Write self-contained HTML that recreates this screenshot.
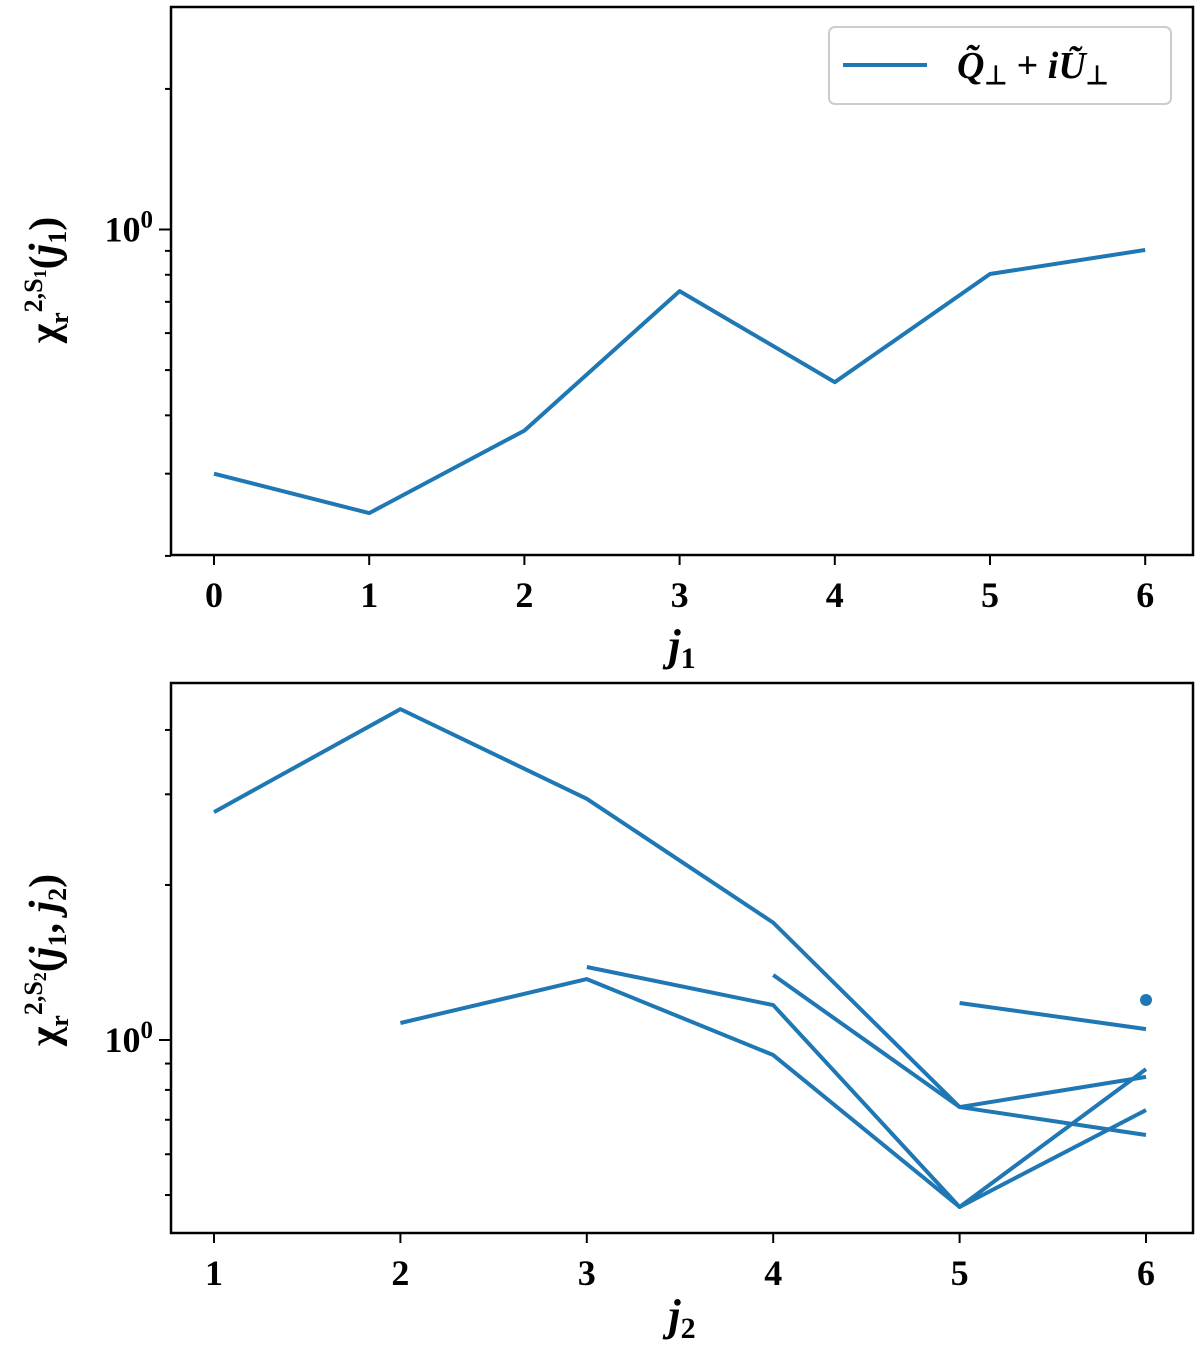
<!DOCTYPE html>
<html><head><meta charset="utf-8"><style>
body{margin:0;background:#fff}
svg text{font-family:"Liberation Serif",serif;fill:#000}
</style></head><body>
<svg id="chart" width="1200" height="1348" viewBox="0 0 1200 1348" xmlns="http://www.w3.org/2000/svg">
<g id="top"></g>
<g id="bot"></g>
</svg>
<script>
const topX = [0,1,2,3,4,5,6];
const topY = [0.30,0.247,0.371,0.738,0.471,0.803,0.904];
const botXTicks = [1,2,3,4,5,6];
const botSeriesStart = [1,2,3,4,5,6];
const botS0 = [2.77,4.39,2.94,1.69,0.741,0.848];
const botS1 = [1.079,1.313,0.935,0.474,0.878];
const botS2 = [1.386,1.169,0.474,0.731];
const botS3 = [1.337,0.741,0.654];
const botS4 = [1.18,1.05];
const botS5 = [1.196];
const NS='http://www.w3.org/2000/svg';
const C='#1f77b4';
function mk(p,t,a){const e=document.createElementNS(NS,t);for(const k in a)e.setAttribute(k,a[k]);p.appendChild(e);return e;}
function panel(g,box,xs,xmin,xstep,x0,y,ydec,ymin,ymax,minors){
  const fx=v=>x0+(v-xmin)*xstep, fy=v=>y-ydec*Math.log10(v);
  const r=mk(g,'rect',{x:box[0],y:box[1],width:box[2]-box[0],height:box[3]-box[1],fill:'none',stroke:'#000','stroke-width':2.5});
  
  
  xs.forEach(v=>{
    const X=fx(v);
    const t=mk(g,'line',{x1:X,x2:X,y1:box[3],y2:box[3]+10,stroke:'#000','stroke-width':2});
    
    
    const tx=mk(g,'text',{x:X,y:box[3]+52,'text-anchor':'middle','font-size':36,'font-weight':'bold'});
    tx.textContent=v;
    
    
  });
  minors.forEach(v=>{
    const Y=fy(v);
    const t=mk(g,'line',{x1:box[0]-6,x2:box[0],y1:Y,y2:Y,stroke:'#000','stroke-width':2});
    
    
  });
  const Y0=fy(1);
  const mt=mk(g,'line',{x1:box[0]-12,x2:box[0],y1:Y0,y2:Y0,stroke:'#000','stroke-width':2});
  
  
  const yl=mk(g,'text',{x:box[0]-18,y:Y0+12,'text-anchor':'end','font-size':36,'font-weight':'bold'});
  yl.innerHTML='10<tspan dy="-14" font-size="25">0</tspan>';
  
  
  return {fx,fy};
}
function series(g,fx,fy,xs,ys,name){
  if(ys.length===1){
    const c=mk(g,'circle',{cx:fx(xs[0]),cy:fy(ys[0]),r:6,fill:C});
    
    
    return;
  }
  const p=mk(g,'polyline',{points:ys.map((v,i)=>fx(xs[i])+','+fy(v)).join(' '),fill:'none',stroke:C,'stroke-width':4,'stroke-linejoin':'round'});
  
  
}
const gt=document.getElementById('top');
const A=panel(gt,[171,7,1193,555],topX,0,155.2,214,229.5,467,0.2,3,[0.2,0.3,0.4,0.5,0.6,0.7,0.8,0.9,2]);
series(gt,A.fx,A.fy,topX,topY,'s1-line');
const gb=document.getElementById('bot');
const B=panel(gb,[171,683,1193,1233],botXTicks,1,186.4,214,1040,515,0.42,4.9,[0.5,0.6,0.7,0.8,0.9,2,3,4]);
[botS0,botS1,botS2,botS3,botS4,botS5].forEach((s,k)=>{
  const xs=s.map((_,i)=>botSeriesStart[k]+i);
  series(gb,B.fx,B.fy,xs,s,'s2-line-j1-'+k);
});
</script>
<svg width="1200" height="1348" style="position:absolute;left:0;top:0" xmlns="http://www.w3.org/2000/svg">
<g>
<rect x="829" y="27" width="342" height="77" rx="6" fill="#fff" stroke="#ccc" stroke-width="2"/>
<line x1="843" x2="927" y1="65" y2="65" stroke="#1f77b4" stroke-width="4"/>
<text x="957" y="78" font-size="38" font-style="italic" font-weight="bold" font-family="Liberation Serif, serif">Q̃<tspan font-style="normal" font-size="26" dy="6">⊥</tspan><tspan dy="-6" font-style="normal"> + </tspan>iŨ<tspan font-style="normal" font-size="26" dy="6">⊥</tspan></text>
</g>
<text x="682" y="660" text-anchor="middle" font-size="44" font-style="italic" font-weight="bold" font-family="Liberation Serif, serif">j<tspan font-size="30" dy="8" font-style="normal">1</tspan></text>
<text x="682" y="1330" text-anchor="middle" font-size="44" font-style="italic" font-weight="bold" font-family="Liberation Serif, serif">j<tspan font-size="30" dy="8" font-style="normal">2</tspan></text>
<text transform="translate(58,280) rotate(-90)" text-anchor="middle" font-size="42" font-weight="bold" font-family="Liberation Serif, serif">χ<tspan font-size="26" dy="10">r</tspan><tspan font-size="26" dy="-26">2,S</tspan><tspan font-size="18" dy="4">1</tspan><tspan dy="12">(</tspan><tspan font-style="italic">j</tspan><tspan font-size="26" dy="8">1</tspan><tspan dy="-8">)</tspan></text>
<text transform="translate(58,960) rotate(-90)" text-anchor="middle" font-size="42" font-weight="bold" font-family="Liberation Serif, serif">χ<tspan font-size="26" dy="10">r</tspan><tspan font-size="26" dy="-26">2,S</tspan><tspan font-size="18" dy="4">2</tspan><tspan dy="12">(</tspan><tspan font-style="italic">j</tspan><tspan font-size="26" dy="8">1</tspan><tspan dy="-8">, </tspan><tspan font-style="italic">j</tspan><tspan font-size="26" dy="8">2</tspan><tspan dy="-8">)</tspan></text>
</svg>
</body></html>
